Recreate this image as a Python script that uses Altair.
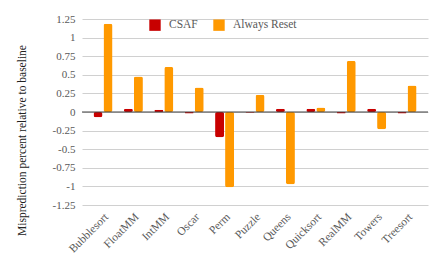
import altair as alt
import pandas as pd

categories = ["Bubblesort", "FloatMM", "IntMM", "Oscar", "Perm", "Puzzle",
              "Queens", "Quicksort", "RealMM", "Towers", "Treesort"]
csaf = [-0.07, 0.045, 0.03, -0.02, -0.34, -0.01, 0.045, 0.045, -0.02, 0.045, -0.02]
always_reset = [1.185, 0.476, 0.606, 0.33, -1.01, 0.233, -0.97, 0.06, 0.687, -0.233, 0.355]
series = ["CSAF", "Always Reset"]
colors = ["#C80000", "#FF9900"]
y_ticks = [-1.25, -1, -0.75, -0.5, -0.25, 0, 0.25, 0.5, 0.75, 1, 1.25]
y_domain = [-1.25, 1.25]

rows = []
for i, c in enumerate(categories):
    rows.append({"cat": c, "series": series[0], "val": csaf[i]})
    rows.append({"cat": c, "series": series[1], "val": always_reset[i]})
df = pd.DataFrame(rows)

FONT = "Liberation Serif"
GRAY = "#595959"

bars = alt.Chart(df).mark_bar(cornerRadius=2).encode(
    x=alt.X("cat:N", sort=categories,
            scale=alt.Scale(paddingInner=0, paddingOuter=0.19),
            axis=alt.Axis(title=None, labelAngle=-45, labelAlign="right",
                          labelBaseline="middle", ticks=False, domain=False,
                          labelFont=FONT, labelFontSize=11.5, labelColor=GRAY,
                          labelPadding=10, labelOffset=4, labelOverlap=False)),
    xOffset=alt.XOffset("series:N", sort=series,
                        scale=alt.Scale(paddingInner=0.1, paddingOuter=0.57)),
    y=alt.Y("val:Q", scale=alt.Scale(domain=y_domain, nice=False, zero=False),
            axis=alt.Axis(values=y_ticks, labelExpr="toString(datum.value)",
                          labelOverlap=False, labelFlush=False, labelBound=False,
                          title="Misprediction percent relative to baseline",
                          titleFont=FONT, titleFontSize=11.5, titleFontWeight="normal",
                          titleColor="#222222", titleAngle=270, titleX=-60, titleY=121,
                          titleAlign="center", titleBaseline="middle",
                          labelFont=FONT, labelFontSize=11, labelColor=GRAY,
                          labelPadding=7, ticks=False, domain=False,
                          gridColor="#d0d0d0", gridWidth=1)),
    color=alt.Color("series:N", sort=series,
                    scale=alt.Scale(domain=series, range=colors),
                    legend=alt.Legend(title=None, orient="none", legendX=67, legendY=0,
                                      direction="horizontal", symbolType="square",
                                      symbolSize=130, symbolStrokeWidth=0,
                                      labelFont=FONT, labelFontSize=11.5,
                                      labelColor=GRAY, labelOffset=8, columnPadding=15,
                                      symbolOpacity=1)),
)

zero = alt.Chart(pd.DataFrame({"z": [0]})).mark_rule(color="#404040", strokeWidth=1).encode(
    y=alt.Y("z:Q", scale=alt.Scale(domain=y_domain, nice=False, zero=False), axis=None)
)

chart = alt.layer(bars, zero).resolve_scale(y="independent").resolve_axis(y="independent").properties(
    width=346, height=186,
    padding={"left": 74, "top": 11, "right": 10, "bottom": 60},
    autosize=alt.AutoSizeParams(type="none"),
    background="white",
).configure_view(stroke=None)

chart.save("out.html", embed_options={"renderer": "svg", "actions": False})
